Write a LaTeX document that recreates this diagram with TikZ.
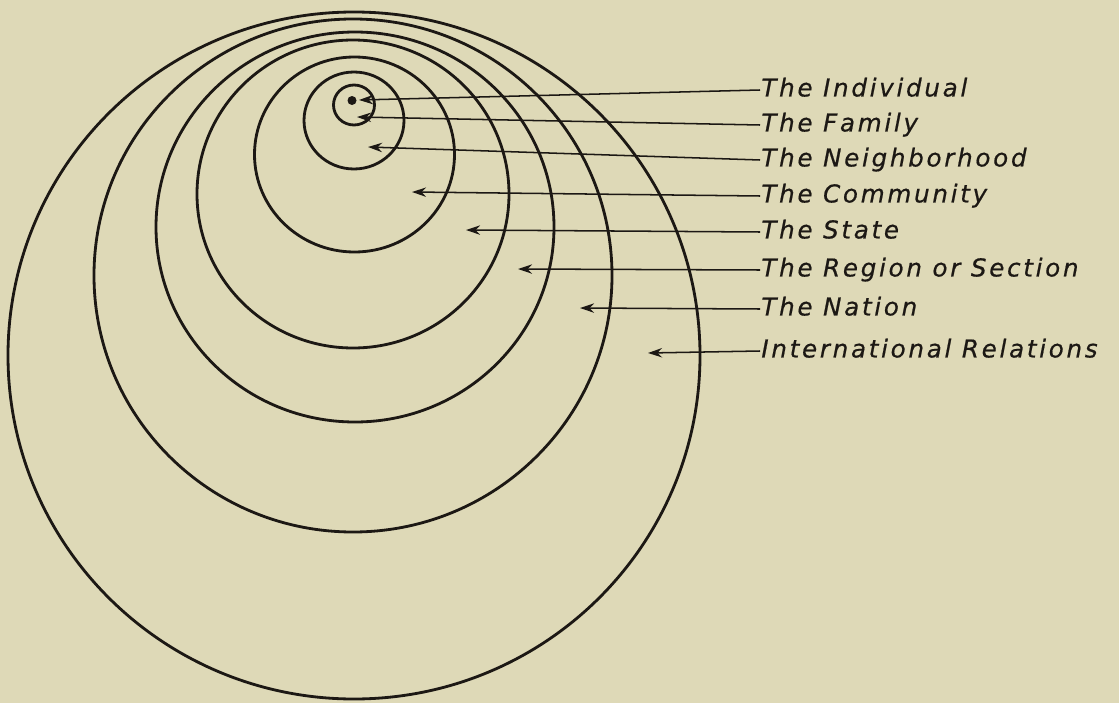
\documentclass[tikz,border=0pt]{standalone}
\usepackage{fontspec}
\setmainfont{DejaVu Sans}
\usetikzlibrary{arrows.meta}
\definecolor{papier}{RGB}{222,217,183}
\definecolor{tinte}{RGB}{28,24,20}
\tikzset{
    kreis/.style={line width=2.4pt, draw=tinte},
    pfeil/.style={line width=1.3pt, draw=tinte, -{Stealth[length=12pt,width=8pt]}},
    schrift/.style={anchor=west, inner sep=1pt, text=tinte, text height=15pt, text depth=4pt,
        font=\fontsize{21}{24}\selectfont\itshape\addfontfeature{LetterSpace=11,FakeBold=0.6}}
}
\begin{document}
\begin{tikzpicture}[x=0.03cm, y=-0.03cm]
    %Hintergrund
    \fill[papier] (0,0) rectangle (1119,703);
    \useasboundingbox (0,0) rectangle (1119,703);

    %Kreise
    \fill[tinte] (352,100.5) circle [radius=4.5];
    \foreach \cx/\cy/\rx/\ry in {354/105/20.5/20, 354/120.5/50/48.5, 354.5/154.5/100/97.5,
        353/194/156/154, 355/227/199/195, 353/275.5/259/256.5, 354/355.5/346/343.5}
        \draw[kreis] (\cx,\cy) ellipse [x radius=\rx, y radius=\ry];

    %Beschriftung
    \node[schrift] (indiv) at (760,90) {The Individual};
    \node[schrift] (family) at (760,125) {The Family};
    \node[schrift] (neigh) at (760,160) {The Neighborhood};
    \node[schrift] (comm) at (760,196) {The Community};
    \node[schrift] (state) at (760,232) {The State};
    \node[schrift] (region) at (760,270) {The Region or Section};
    \node[schrift] (nation) at (760,309) {The Nation};
    \node[schrift] (inter) at (760,351) {International Relations};

    %Pfeilspitzen
    \coordinate (indiv-tip) at (359,100);
    \coordinate (family-tip) at (357,117);
    \coordinate (neigh-tip) at (368,147);
    \coordinate (comm-tip) at (412,192);
    \coordinate (state-tip) at (466,230);
    \coordinate (region-tip) at (518,269);
    \coordinate (nation-tip) at (580,308);
    \coordinate (inter-tip) at (648,353);

    %Pfeile
    \draw[pfeil] (indiv.west) -- (indiv-tip);
    \draw[pfeil] (family.west) -- (family-tip);
    \draw[pfeil] (neigh.west) -- (neigh-tip);
    \draw[pfeil] (comm.west) -- (comm-tip);
    \draw[pfeil] (state.west) -- (state-tip);
    \draw[pfeil] (region.west) -- (region-tip);
    \draw[pfeil] (nation.west) -- (nation-tip);
    \draw[pfeil] (inter.west) -- (inter-tip);
\end{tikzpicture}
\end{document}
